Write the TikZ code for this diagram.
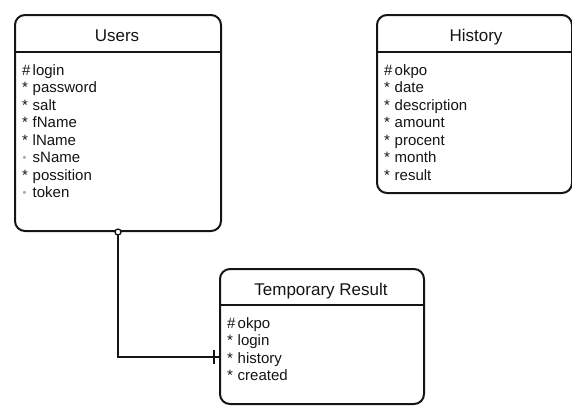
\documentclass[tikz,border=0pt]{standalone}
\usepackage{fontspec}
\setmainfont{Liberation Sans}
\definecolor{ink}{HTML}{141414}
\definecolor{optdot}{HTML}{A8A8A8}
\newcommand{\pkmark}{\makebox[10.5pt][l]{\#}}
\newcommand{\mandmark}{\makebox[10.5pt][l]{*}}
\newcommand{\optmark}{\makebox[10.5pt][l]{\hspace{0.5pt}\textcolor{optdot}{\raisebox{1.5pt}{\fontsize{11}{11}\selectfont •}}}}
\begin{document}
\begin{tikzpicture}[x=1pt,y=-1pt,
  entity/.style={draw=ink, line width=2pt, rounded corners=10pt, inner sep=0pt, anchor=north west},
  divider/.style={draw=ink, line width=2pt},
  title/.style={font=\fontsize{17}{17}\selectfont, text=ink, anchor=base, inner sep=0pt},
  attr/.style={font=\fontsize{15}{15}\selectfont, text=ink, anchor=base west, inner sep=0pt},
  link/.style={draw=ink, line width=1.5pt}]
\useasboundingbox (0,0) rectangle (572,405);

% Users
\node[entity, minimum width=206pt, minimum height=216pt] (users) at (14,14) {};
\draw[divider] (users.west |- 0,52) -- (users.east |- 0,52);
\node[title] (users-title) at (117,41) {Users};
\foreach \m/\t [count=\i] in {\pkmark/login, \mandmark/password, \mandmark/salt, \mandmark/fName, \mandmark/lName, \optmark/sName, \mandmark/possition, \optmark/token}
  \node[attr] (users-a\i) at (22,{75+17.5*(\i-1)}) {\m\t};

% History
\node[entity, minimum width=195pt, minimum height=178pt] (history) at (376,14) {};
\draw[divider] (history.west |- 0,52) -- (history.east |- 0,52);
\node[title] (history-title) at (476,41) {History};
\foreach \m/\t [count=\i] in {\pkmark/okpo, \mandmark/date, \mandmark/description, \mandmark/amount, \mandmark/procent, \mandmark/month, \mandmark/result}
  \node[attr] (history-a\i) at (384,{75+17.5*(\i-1)}) {\m\t};

% Temporary Result
\node[entity, minimum width=204pt, minimum height=135pt] (temp) at (219,268) {};
\draw[divider] (temp.west |- 0,305) -- (temp.east |- 0,305);
\node[title] (temp-title) at (321,295) {Temporary Result};
\foreach \m/\t [count=\i] in {\pkmark/okpo, \mandmark/login, \mandmark/history, \mandmark/created}
  \node[attr] (temp-a\i) at (227,{328+17.5*(\i-1)}) {\m\t};

% Relationship
\coordinate (tj) at (219,357);
\draw[link] (users.south) |- (tj);
\draw[link] ([xshift=-5pt,yshift=-7pt]tj) -- ([xshift=-5pt,yshift=7pt]tj);
\draw[draw=ink, line width=1.3pt, fill=white] (users.south) circle (3pt);
\end{tikzpicture}
\end{document}
